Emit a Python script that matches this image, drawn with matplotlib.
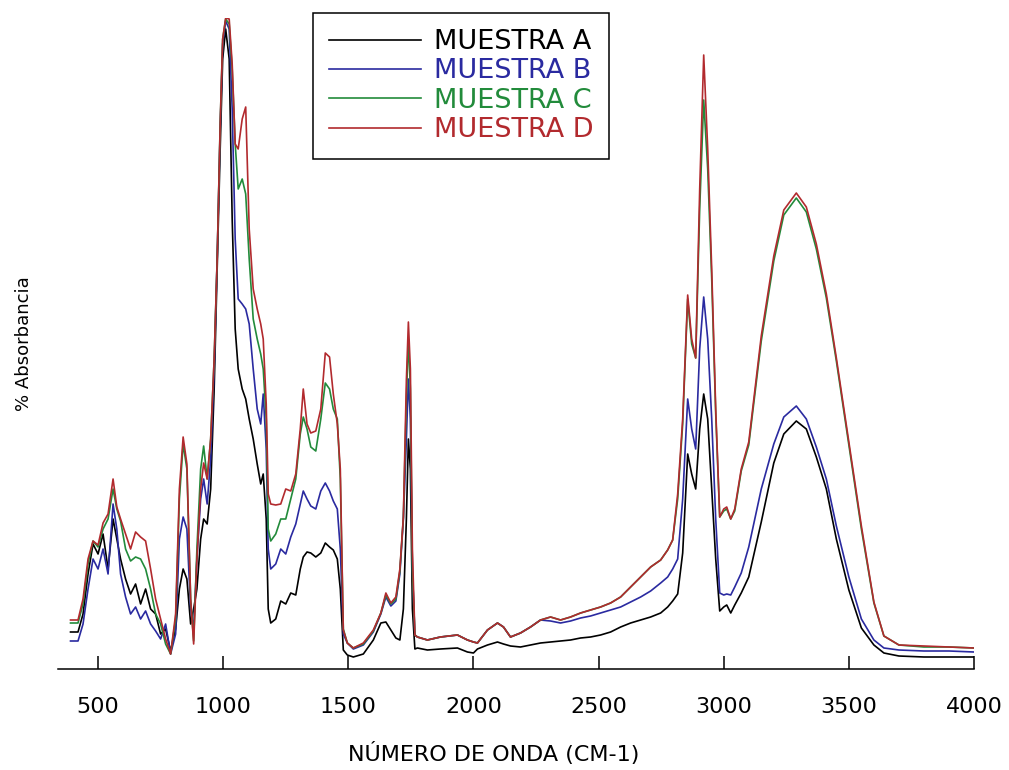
import numpy as np
import matplotlib.pyplot as plt

# wavenumber (cm-1) and absorbance (arbitrary units)
onda = [390, 420, 440, 460, 480, 500, 520, 540, 560, 575, 590, 610, 630, 650, 670, 690,
        710, 730, 750, 770, 790, 810, 825, 840, 855, 870, 882, 895, 910, 922, 936, 950,
        964, 976, 988, 998, 1010, 1024, 1036, 1048, 1060, 1076, 1090, 1104, 1120, 1136,
        1150, 1160, 1172, 1180, 1190, 1210, 1230, 1250, 1270, 1290, 1308, 1320, 1335,
        1350, 1370, 1390, 1408, 1425, 1440, 1456, 1468, 1480, 1496, 1520, 1560, 1600,
        1630, 1650, 1670, 1690, 1706, 1720, 1732, 1740, 1748, 1756, 1766, 1776, 1816,
        1868, 1936, 1976, 2000, 2016, 2056, 2096, 2120, 2148, 2188, 2228, 2268, 2308,
        2348, 2388, 2428, 2468, 2508, 2548, 2588, 2628, 2668, 2708, 2748, 2776, 2796,
        2816, 2836, 2856, 2872, 2888, 2904, 2920, 2936, 2952, 2968, 2984, 3000, 3012,
        3028, 3044, 3070, 3100, 3150, 3200, 3240, 3290, 3330, 3370, 3410, 3450, 3500,
        3550, 3600, 3640, 3700, 3800, 3900, 4000]

muestra_a = [37, 37, 55, 95, 125, 115, 135, 100, 150, 130, 110, 90, 75, 85, 65, 80,
             60, 55, 35, 40, 18, 40, 80, 100, 90, 45, 60, 80, 130, 150, 145, 180,
             280, 400, 520, 610, 640, 610, 450, 340, 300, 280, 270, 250, 230, 205,
             185, 195, 150, 60, 46, 50, 68, 65, 76, 74, 100, 112, 117,
             116, 112, 116, 126, 122, 119, 110, 80, 19, 14, 12, 15, 29,
             46, 47, 39, 31, 29, 60, 150, 230, 200, 60, 20, 21, 19,
             20, 21, 17, 16, 20, 24, 27, 25, 23, 22, 24, 26, 27,
             28, 29, 31, 32, 34, 37, 42, 46, 49, 52, 56, 62, 68,
             75, 116, 215, 195, 180, 240, 275, 250, 180, 110, 58, 62, 64,
             56, 64, 76, 92, 147, 206, 235, 248, 240, 212, 180, 130, 79,
             41, 24, 16, 13, 12, 12, 12]

muestra_b = [28, 28, 45, 80, 110, 100, 120, 95, 165, 140, 95, 72, 55, 62, 50, 58,
             45, 38, 30, 45, 15, 35, 130, 152, 140, 60, 40, 110, 170, 190, 165, 210,
             300, 410, 540, 625, 648, 640, 560, 430, 370, 365, 360, 345, 300, 260,
             245, 275, 220, 120, 100, 105, 120, 115, 132, 145, 165, 178, 170,
             163, 160, 178, 186, 178, 168, 160, 120, 35, 26, 20, 24, 37,
             55, 72, 63, 68, 95, 150, 230, 290, 250, 100, 34, 32, 29,
             32, 34, 29, 27, 26, 39, 46, 42, 32, 36, 42, 49, 48,
             46, 48, 51, 53, 56, 59, 62, 67, 72, 78, 86, 92, 100,
             110, 170, 270, 240, 220, 320, 372, 330, 250, 150, 76, 74, 75,
             74, 82, 96, 122, 180, 225, 252, 263, 250, 222, 190, 143, 92,
             50, 29, 21, 19, 18, 18, 17]

muestra_c = [46, 46, 65, 105, 128, 122, 140, 150, 180, 160, 148, 120, 108, 112, 110, 100,
             80, 55, 45, 25, 15, 50, 170, 225, 200, 70, 28, 120, 200, 223, 190, 230,
             310, 410, 545, 630, 650, 645, 600, 525, 480, 490, 475, 410, 350, 330,
             315, 300, 250, 140, 128, 135, 150, 150, 170, 190, 235, 252, 240,
             222, 218, 250, 286, 280, 260, 250, 190, 40, 26, 21, 25, 38,
             56, 74, 65, 70, 98, 152, 270, 330, 280, 100, 34, 32, 29,
             32, 34, 29, 27, 26, 39, 46, 42, 32, 36, 42, 49, 52,
             49, 52, 56, 59, 62, 66, 72, 82, 92, 102, 109, 119, 129,
             170, 245, 370, 325, 311, 460, 569, 500, 390, 255, 152, 158, 160,
             150, 158, 198, 224, 328, 408, 454, 471, 457, 420, 371, 308, 224,
             140, 66, 33, 24, 22, 22, 21]

muestra_d = [49, 49, 70, 110, 128, 124, 146, 155, 190, 162, 150, 135, 120, 137, 132, 128,
             100, 70, 50, 30, 15, 55, 180, 232, 205, 70, 25, 110, 180, 206, 190, 230,
             310, 410, 545, 630, 651, 650, 605, 525, 520, 550, 562, 440, 380, 360,
             345, 330, 265, 175, 165, 164, 165, 180, 178, 195, 240, 280, 245,
             236, 238, 260, 316, 312, 275, 245, 200, 39, 26, 21, 26, 39,
             56, 76, 66, 72, 100, 152, 289, 347, 300, 120, 34, 32, 29,
             32, 34, 29, 27, 26, 39, 46, 42, 32, 36, 42, 49, 52,
             49, 52, 56, 59, 62, 66, 72, 82, 92, 102, 109, 119, 129,
             175, 250, 374, 330, 311, 480, 614, 520, 400, 260, 152, 160, 162,
             150, 160, 200, 227, 333, 413, 459, 476, 462, 425, 375, 311, 227,
             143, 67, 33, 24, 23, 22, 21]

series = [("MUESTRA A", muestra_a, "#000000"),
          ("MUESTRA B", muestra_b, "#2a2aa0"),
          ("MUESTRA C", muestra_c, "#228b3b"),
          ("MUESTRA D", muestra_d, "#b22a2e")]

ticks = [500, 1000, 1500, 2000, 2500, 3000, 3500, 4000]

fig = plt.figure(figsize=(10.09, 7.70), dpi=100)
ax = fig.add_axes([58 / 1009, 1 - 669 / 770, 916 / 1009, 651 / 770])

for nombre, vals, col in series:
    ax.plot(onda, vals, color=col, lw=1.2, label=nombre)

ax.set_xlim(340, 4000)
ax.set_ylim(0, 651)
ax.set_xticks(ticks)
ax.set_yticks([])
for s in ["left", "right", "top"]:
    ax.spines[s].set_visible(False)
ax.spines["bottom"].set_linewidth(1.1)
ax.tick_params(axis="x", direction="in", length=9.4, width=1.1, labelsize=16, pad=20)

ax.set_xlabel("NÚMERO DE ONDA (CM-1)", fontsize=16)
ax.xaxis.set_label_coords(0.476, -0.112)
ax.set_ylabel("% Absorbancia", fontsize=13)
ax.yaxis.set_label_coords(-0.027, 0.5)

leg = ax.legend(loc="upper left", bbox_to_anchor=(313 / 1009, 1 - 13 / 770),
                bbox_transform=fig.transFigure, borderaxespad=0, fontsize=19.5,
                handlelength=3.4, handletextpad=0.45, labelspacing=0.12,
                borderpad=0.6, fancybox=False, framealpha=1, labelcolor="linecolor")
leg.get_frame().set_edgecolor("black")
leg.get_frame().set_linewidth(1.1)

fig.savefig("out.png", dpi=100)
